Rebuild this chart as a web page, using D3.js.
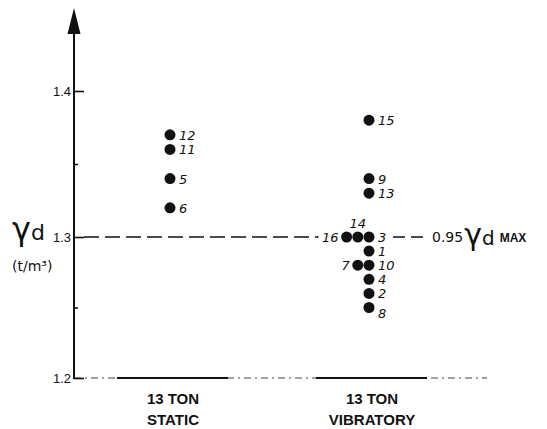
<!DOCTYPE html>
<html>
<head>
<meta charset="utf-8">
<script src="https://cdn.jsdelivr.net/npm/d3@7"></script>
<style>
  html, body { margin: 0; padding: 0; background: #fff; }
  svg { display: block; }
  text { fill: #111; font-family: "DejaVu Sans", "Liberation Sans", sans-serif; }
</style>
</head>
<body>
<svg id="chart" width="547" height="429"></svg>
<script>
// Roller types
const categories = ["13 TON STATIC", "13 TON VIBRATORY"];
const categoryLines = [["13 TON", "STATIC"], ["13 TON", "VIBRATORY"]];

// Test numbers and dry densities (t/m³) for each roller
const staticTests = [12, 11, 5, 6];
const staticDensity = [1.37, 1.36, 1.34, 1.32];

// Equal densities are listed main column first, then stacked to the left
const vibratoryTests = [15, 9, 13, 3, 14, 16, 1, 10, 7, 4, 2, 8];
const vibratoryDensity = [1.38, 1.34, 1.33, 1.30, 1.30, 1.30, 1.29, 1.28, 1.28, 1.27, 1.26, 1.25];

// Axis ticks
const majorTicks = [1.2, 1.3, 1.4];
const majorTickLabels = ["1.2", "1.3", "1.4"];
const minorTicks = [1.25, 1.35];

// Specification level: 0.95 of the maximum dry density
const criterion = 1.30;

// Label placement for crowded points
const labelSide = { 16: "left", 7: "left", 14: "above", 8: "low" };

const svg = d3.select("#chart");
const ink = "#111";

const y = d3.scaleLinear().domain([1.2, 1.3, 1.4]).range([378, 237, 91]);
const x = d3.scalePoint().domain(categories).range([170, 369]);
const axisX = 74;
const dotR = 5.5;
const dotStep = 11.2;

// Combine each roller's arrays into point records with stacking column
function buildPoints(cat, tests, dens) {
  const seen = new Map();
  return tests.map((t, i) => {
    const v = dens[i];
    const col = seen.get(v) || 0;
    seen.set(v, col + 1);
    return { cat, test: t, value: v, col };
  });
}
const points = buildPoints(categories[0], staticTests, staticDensity)
  .concat(buildPoints(categories[1], vibratoryTests, vibratoryDensity));

// Baseline at 1.2: light dash-dot line with solid bars under each roller
const yBase = y(1.2);
svg.append("line")
  .attr("x1", axisX).attr("x2", 487).attr("y1", yBase).attr("y2", yBase)
  .attr("stroke", "#444").attr("stroke-width", 1)
  .attr("stroke-dasharray", "7,4,2,4");
svg.selectAll("line.bar").data(categories).join("line")
  .attr("class", "bar")
  .attr("x1", d => x(d) - 53).attr("x2", d => x(d) + 58)
  .attr("y1", yBase).attr("y2", yBase)
  .attr("stroke", ink).attr("stroke-width", 2.2);

// Criterion dashed line, broken around the labelled points
const yc = y(criterion);
const rowCols = points.filter(p => p.cat === categories[1] && p.value === criterion);
const leftMost = x(categories[1]) - dotStep * d3.max(rowCols, p => p.col);
svg.append("line")
  .attr("x1", axisX + 10).attr("x2", leftMost - 28)
  .attr("y1", yc).attr("y2", yc)
  .attr("stroke", ink).attr("stroke-width", 1.4)
  .attr("stroke-dasharray", "15,6");
svg.append("line")
  .attr("x1", x(categories[1]) + 24).attr("x2", 428)
  .attr("y1", yc).attr("y2", yc)
  .attr("stroke", ink).attr("stroke-width", 1.4)
  .attr("stroke-dasharray", "12,6");

// Criterion label
const crit = svg.append("text").attr("x", 432).attr("y", yc + 5);
crit.append("tspan").attr("font-size", 14).text("0.95");
crit.append("tspan").attr("font-size", 30).attr("dx", 1).attr("dy", 3).text("γ");
crit.append("tspan").attr("font-size", 20).attr("dx", 0).attr("dy", 0).text("d");
crit.append("tspan").attr("font-size", 12).attr("font-weight", "bold").attr("dx", 5).attr("dy", -3)
  .style("font-family", "'Liberation Sans', sans-serif").text("MAX");

// Y axis: major ticks with labels, minor ticks without
const gAxis = svg.append("g").attr("transform", `translate(${axisX},0)`);
gAxis.call(d3.axisLeft(y).tickValues(majorTicks)
  .tickFormat((d, i) => majorTickLabels[i]).tickSize(-10).tickPadding(3));
const gMinor = svg.append("g").attr("transform", `translate(${axisX},0)`);
gMinor.call(d3.axisLeft(y).tickValues(minorTicks).tickFormat("").tickSize(-4));
svg.selectAll(".domain").remove();
svg.selectAll(".tick line").attr("stroke", ink).attr("stroke-width", 1.6);
gAxis.selectAll(".tick text")
  .attr("fill", ink)
  .style("font-size", "13px")
  .style("font-family", "'Liberation Sans', sans-serif");

// Axis line with arrowhead
svg.append("line")
  .attr("x1", axisX).attr("x2", axisX).attr("y1", yBase + 1).attr("y2", 28)
  .attr("stroke", ink).attr("stroke-width", 2);
svg.append("path")
  .attr("d", `M${axisX},8 L${axisX + 6.5},34 L${axisX - 6.5},34 Z`)
  .attr("fill", ink);

// Axis title
const title = svg.append("text").attr("x", 12).attr("y", 240);
title.append("tspan").attr("font-size", 32).text("γ");
title.append("tspan").attr("font-size", 22).attr("dx", 0).text("d");
svg.append("text").attr("x", 12).attr("y", 271).attr("font-size", 14)
  .text("(t/m³)");

// Points
const px = p => x(p.cat) - p.col * dotStep;
svg.selectAll("circle.pt").data(points).join("circle")
  .attr("class", "pt")
  .attr("cx", px).attr("cy", p => y(p.value))
  .attr("r", dotR).attr("fill", ink);

// Test number labels
svg.selectAll("text.num").data(points).join("text")
  .attr("class", "num")
  .attr("font-size", 13).attr("font-style", "italic")
  .attr("text-anchor", p => labelSide[p.test] === "left" ? "end"
    : labelSide[p.test] === "above" ? "middle" : "start")
  .attr("x", p => {
    const s = labelSide[p.test];
    if (s === "left") return px(p) - 8;
    if (s === "above") return px(p);
    return px(p) + 9;
  })
  .attr("y", p => {
    const s = labelSide[p.test];
    if (s === "above") return y(p.value) - 9;
    if (s === "low") return y(p.value) + 10;
    return y(p.value) + 5;
  })
  .text(p => p.test);

// Category labels
categoryLines.forEach((lines, i) => {
  const t = svg.append("text")
    .attr("x", x(categories[i]) + 3).attr("y", 404)
    .attr("text-anchor", "middle").attr("font-size", 15).attr("font-weight", "bold")
    .style("font-family", "'Liberation Sans', sans-serif");
  lines.forEach((l, j) => {
    t.append("tspan").attr("x", x(categories[i]) + 3).attr("dy", j === 0 ? 0 : 21).text(l);
  });
});
</script>
</body>
</html>
